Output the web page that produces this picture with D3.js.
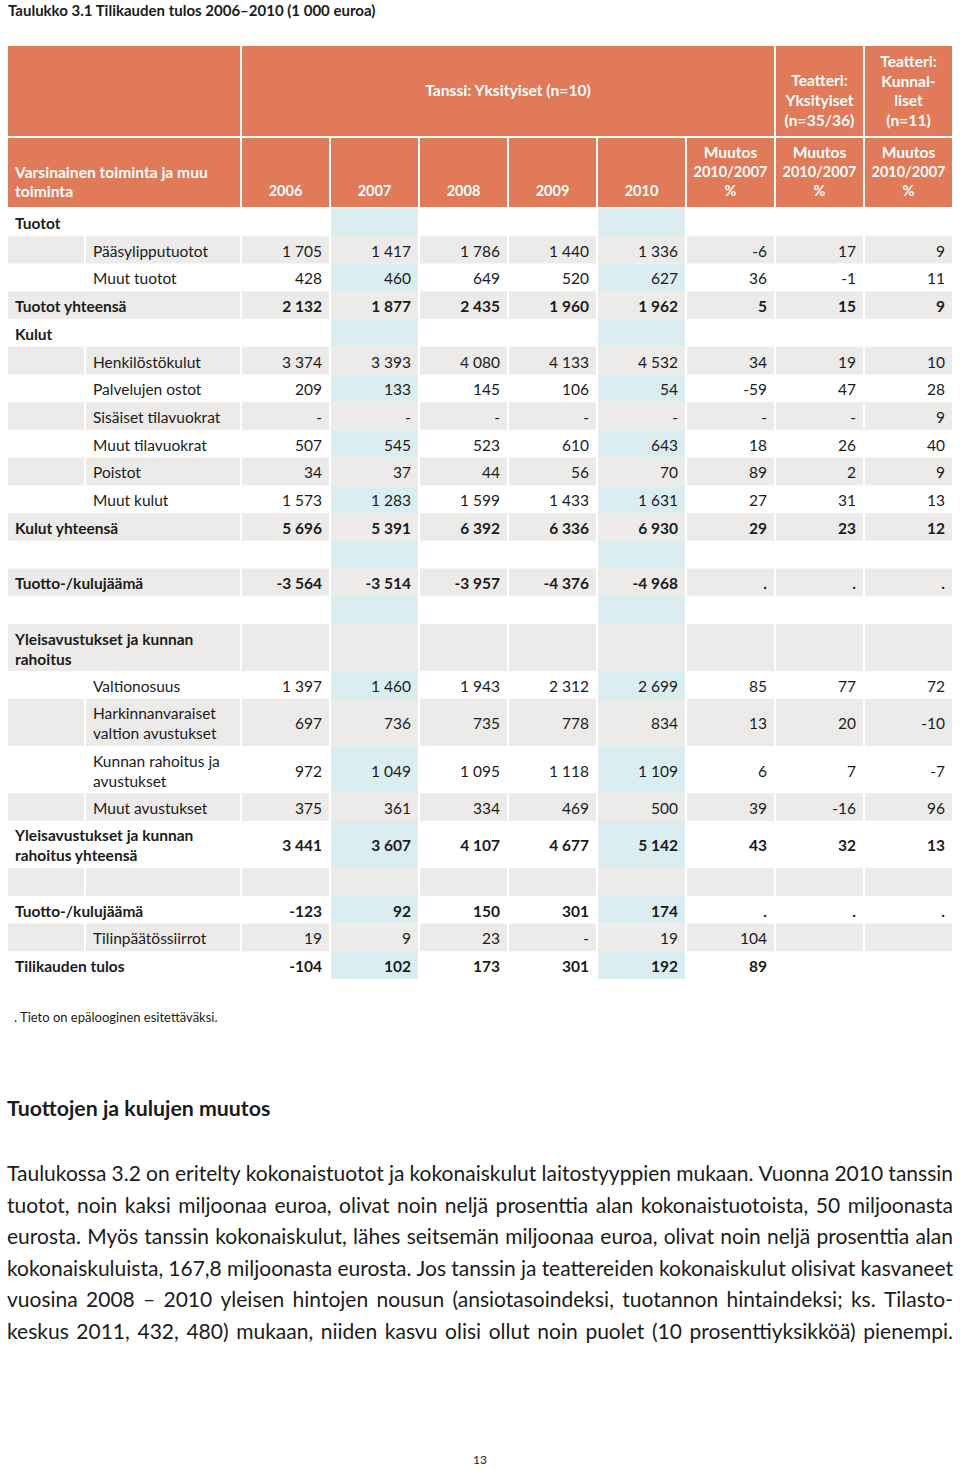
<!DOCTYPE html>
<html><head><meta charset="utf-8">
<script src="https://cdn.jsdelivr.net/npm/d3@7"></script>
<style>
body{margin:0;background:#fff}
svg{display:block}
text{font-family:Lato,'Open Sans',sans-serif}
</style>
</head><body>
<svg id="c" width="960" height="1469"></svg>
<script>
// ---------- DATA ----------
const titleText = "Taulukko 3.1 Tilikauden tulos 2006–2010 (1 000 euroa)";
const columns = ["2006","2007","2008","2009","2010","chgTanssi","chgTeatYks","chgTeatKunn"];
const yearLabels = ["2006","2007","2008","2009","2010"];
const changeLabel = ["Muutos","2010/2007","%"];
const rowHeaderLabel = ["Varsinainen toiminta ja muu","toiminta"];
const groupTanssi = "Tanssi: Yksityiset (n=10)";
const groupTeatYks = ["Teatteri:","Yksityiset","(n=35/36)"];
const groupTeatKunn = ["Teatteri:","Kunnal-","liset","(n=11)"];

const rowLabels = [
  "Tuotot","Pääsylipputuotot","Muut tuotot","Tuotot yhteensä",
  "Kulut","Henkilöstökulut","Palvelujen ostot","Sisäiset tilavuokrat","Muut tilavuokrat","Poistot","Muut kulut","Kulut yhteensä",
  "","Tuotto-/kulujäämä","",
  "Yleisavustukset ja kunnan\nrahoitus","Valtionosuus","Harkinnanvaraiset\nvaltion avustukset","Kunnan rahoitus ja\navustukset","Muut avustukset","Yleisavustukset ja kunnan\nrahoitus yhteensä",
  "","Tuotto-/kulujäämä","Tilinpäätössiirrot","Tilikauden tulos"
];
const rowKind = [
  "head","sub","sub","total",
  "head","sub","sub","sub","sub","sub","sub","total",
  "sub","total","sub",
  "head","sub","sub","sub","sub","total",
  "sub","total","sub","total"
];
const v2006 = [null,1705,428,2132,null,3374,209,"-",507,34,1573,5696,null,-3564,null,null,1397,697,972,375,3441,null,-123,19,-104];
const v2007 = [null,1417,460,1877,null,3393,133,"-",545,37,1283,5391,null,-3514,null,null,1460,736,1049,361,3607,null,92,9,102];
const v2008 = [null,1786,649,2435,null,4080,145,"-",523,44,1599,6392,null,-3957,null,null,1943,735,1095,334,4107,null,150,23,173];
const v2009 = [null,1440,520,1960,null,4133,106,"-",610,56,1433,6336,null,-4376,null,null,2312,778,1118,469,4677,null,301,"-",301];
const v2010 = [null,1336,627,1962,null,4532,54,"-",643,70,1631,6930,null,-4968,null,null,2699,834,1109,500,5142,null,174,19,192];
const chgTanssi = [null,-6,36,5,null,34,-59,"-",18,89,27,29,null,".",null,null,85,13,6,39,43,null,".",104,89];
const chgTeatYks = [null,17,-1,15,null,19,47,"-",26,2,31,23,null,".",null,null,77,20,7,-16,32,null,".",null,null];
const chgTeatKunn = [null,9,11,9,null,10,28,9,40,9,13,12,null,".",null,null,72,-10,-7,96,13,null,".",null,null];

const footnote = ". Tieto on epälooginen esitettäväksi.";
const heading = "Tuottojen ja kulujen muutos";
const paragraph = [
  "Taulukossa 3.2 on eritelty kokonaistuotot ja kokonaiskulut laitostyyppien mukaan. Vuonna 2010 tanssin",
  "tuotot, noin kaksi miljoonaa euroa, olivat noin neljä prosenttia alan kokonaistuotoista, 50 miljoonasta",
  "eurosta. Myös tanssin kokonaiskulut, lähes seitsemän miljoonaa euroa, olivat noin neljä prosenttia alan",
  "kokonaiskuluista, 167,8 miljoonasta eurosta. Jos tanssin ja teattereiden kokonaiskulut olisivat kasvaneet",
  "vuosina 2008 – 2010 yleisen hintojen nousun (ansiotasoindeksi, tuotannon hintaindeksi; ks. Tilasto-",
  "keskus 2011, 432, 480) mukaan, niiden kasvu olisi ollut noin puolet (10 prosenttiyksikköä) pienempi."
];
const pageNumber = "13";

// ---------- STYLE ----------
const ORANGE = "#e07a58", GRAY = "#ecebe9", BLUE = "#daeef2", INK = "#1b1b1b";
const valueCols = {"2006":v2006,"2007":v2007,"2008":v2008,"2009":v2009,"2010":v2010,
  chgTanssi,chgTeatYks,chgTeatKunn};
const blueCols = new Set(["2007","2010"]);

const svg = d3.select("#c");
svg.append("rect").attr("width",960).attr("height",1469).attr("fill","#fff");

const fmt = d3.formatLocale({decimal:",",thousands:"\u00a0",grouping:[3],currency:["",""],minus:"-"}).format(",d");

const x = d3.scaleBand().domain(columns).range([241,953]);
const rowUnits = rowLabels.map(l => l.includes("\n") ? 1.7 : 1);
const cum = [0, ...d3.cumsum(rowUnits)];
const y = d3.scaleLinear().domain([0, cum[cum.length-1]]).range([208, 979]);

// title
svg.append("text").attr("x",8).attr("y",10).attr("dominant-baseline","central")
  .attr("font-size",15).attr("font-weight",700).attr("fill",INK).text(titleText);

// ---------- HEADER ----------
const H1top = 46, H1bot = 136, H2top = 138, H2bot = 207;
const hdr = svg.append("g");
function hcell(x0,x1,y0,y1){hdr.append("rect").attr("x",x0).attr("y",y0).attr("width",x1-x0).attr("height",y1-y0).attr("fill",ORANGE);}
function htext(lines, cx, ys, anchor){
  lines.forEach((t,i)=>hdr.append("text").attr("x",cx).attr("y",ys[i]).attr("text-anchor",anchor||"middle")
    .attr("dominant-baseline","central").attr("font-size",/^[\d\/%]+$/.test(t)?14.5:15.6)
    .attr("font-weight",700).attr("fill","#fff").text(t));
}
hcell(8,240,H1top,H1bot);
hcell(x("2006")+1, x("chgTanssi")+x.bandwidth()-1, H1top, H1bot);
hcell(x("chgTeatYks")+1, x("chgTeatYks")+x.bandwidth()-1, H1top, H1bot);
hcell(x("chgTeatKunn")+1, x("chgTeatKunn")+x.bandwidth()-1, H1top, H1bot);
hcell(8,240,H2top,H2bot);
columns.forEach(c=>hcell(x(c)+1, x(c)+x.bandwidth()-1, H2top, H2bot));

htext([groupTanssi], (x("2006")+x("chgTanssi")+x.bandwidth())/2, [90]);
htext(groupTeatYks, x("chgTeatYks")+x.bandwidth()/2, [80,100,120]);
htext(groupTeatKunn, x("chgTeatKunn")+x.bandwidth()/2, [61,81,100,120]);
htext(rowHeaderLabel, 15, [172,191], "start");
yearLabels.forEach(c=>htext([c], x(c)+x.bandwidth()/2, [190]));
["chgTanssi","chgTeatYks","chgTeatKunn"].forEach(c=>htext(changeLabel, x(c)+x.bandwidth()/2, [152,171,190]));

// ---------- BODY ----------
const body = svg.append("g");
rowLabels.forEach((label,i)=>{
  const y0 = y(cum[i]), y1 = y(cum[i+1]), cy = (y0+y1)/2;
  const gray = i % 2 === 1;
  const kind = rowKind[i];
  const bold = kind !== "sub";
  if (gray) {
    if (kind === "sub") {
      body.append("rect").attr("x",8).attr("y",y0).attr("width",76).attr("height",y1-y0).attr("fill",GRAY);
      body.append("rect").attr("x",86).attr("y",y0).attr("width",154).attr("height",y1-y0).attr("fill",GRAY);
    } else {
      body.append("rect").attr("x",8).attr("y",y0).attr("width",232).attr("height",y1-y0).attr("fill",GRAY);
    }
  }
  columns.forEach(c=>{
    const fill = gray ? GRAY : (blueCols.has(c) ? BLUE : null);
    if (fill) body.append("rect").attr("x",x(c)+1).attr("y",y0).attr("width",x.bandwidth()-2).attr("height",y1-y0).attr("fill",fill);
  });
  const lines = label.split("\n");
  const lx = kind === "sub" ? 93 : 15;
  lines.forEach((t,k)=>{
    body.append("text").attr("x",lx).attr("y",cy + (k-(lines.length-1)/2)*20 + 1)
      .attr("dominant-baseline","central").attr("font-size",15.5).attr("font-weight",bold?700:400)
      .attr("fill",INK).text(t);
  });
  columns.forEach(c=>{
    const v = valueCols[c][i];
    if (v === null || v === undefined) return;
    const s = typeof v === "number" ? fmt(v) : v;
    body.append("text").attr("x",x(c)+x.bandwidth()-8).attr("y",cy+1)
      .attr("text-anchor","end").attr("dominant-baseline","central")
      .attr("font-size",15.5).attr("font-weight",bold?700:400).attr("fill",INK).text(s);
  });
});

// ---------- TEXT BELOW ----------
svg.append("text").attr("x",14).attr("y",1017).attr("dominant-baseline","central")
  .attr("font-size",13).attr("fill",INK).text(footnote);
svg.append("text").attr("x",7).attr("y",1108).attr("dominant-baseline","central")
  .attr("font-size",21.3).attr("font-weight",700).attr("fill",INK).text(heading);

// justified paragraph
const pX0 = 7, pX1 = 953, lineYs = [1172,1203.5,1235,1266.5,1298,1329.5];
let pSize = 21;
const meas = svg.append("text").attr("font-size",pSize).attr("visibility","hidden");
function wordW(w){ meas.text(w); return meas.node().getComputedTextLength(); }
let maxNeed = d3.max(paragraph, line => { const ws=line.split(" "); return d3.sum(ws,wordW) + 5*(ws.length-1); });
if (maxNeed > pX1-pX0) { pSize = pSize*(pX1-pX0)/maxNeed; meas.attr("font-size",pSize); }
paragraph.forEach((line,i)=>{
  const ws = line.split(" ");
  const widths = ws.map(wordW);
  const gap = ((pX1-pX0) - d3.sum(widths)) / (ws.length-1);
  let cx = pX0;
  const t = svg.append("text").attr("y",lineYs[i]).attr("dominant-baseline","central")
    .attr("font-size",pSize).attr("fill",INK);
  ws.forEach((w,k)=>{ t.append("tspan").attr("x",cx).text(w); cx += widths[k] + gap; });
});
meas.remove();

svg.append("text").attr("x",480).attr("y",1459).attr("text-anchor","middle").attr("dominant-baseline","central")
  .attr("font-size",12).attr("fill",INK).text(pageNumber);
</script>
</body></html>
